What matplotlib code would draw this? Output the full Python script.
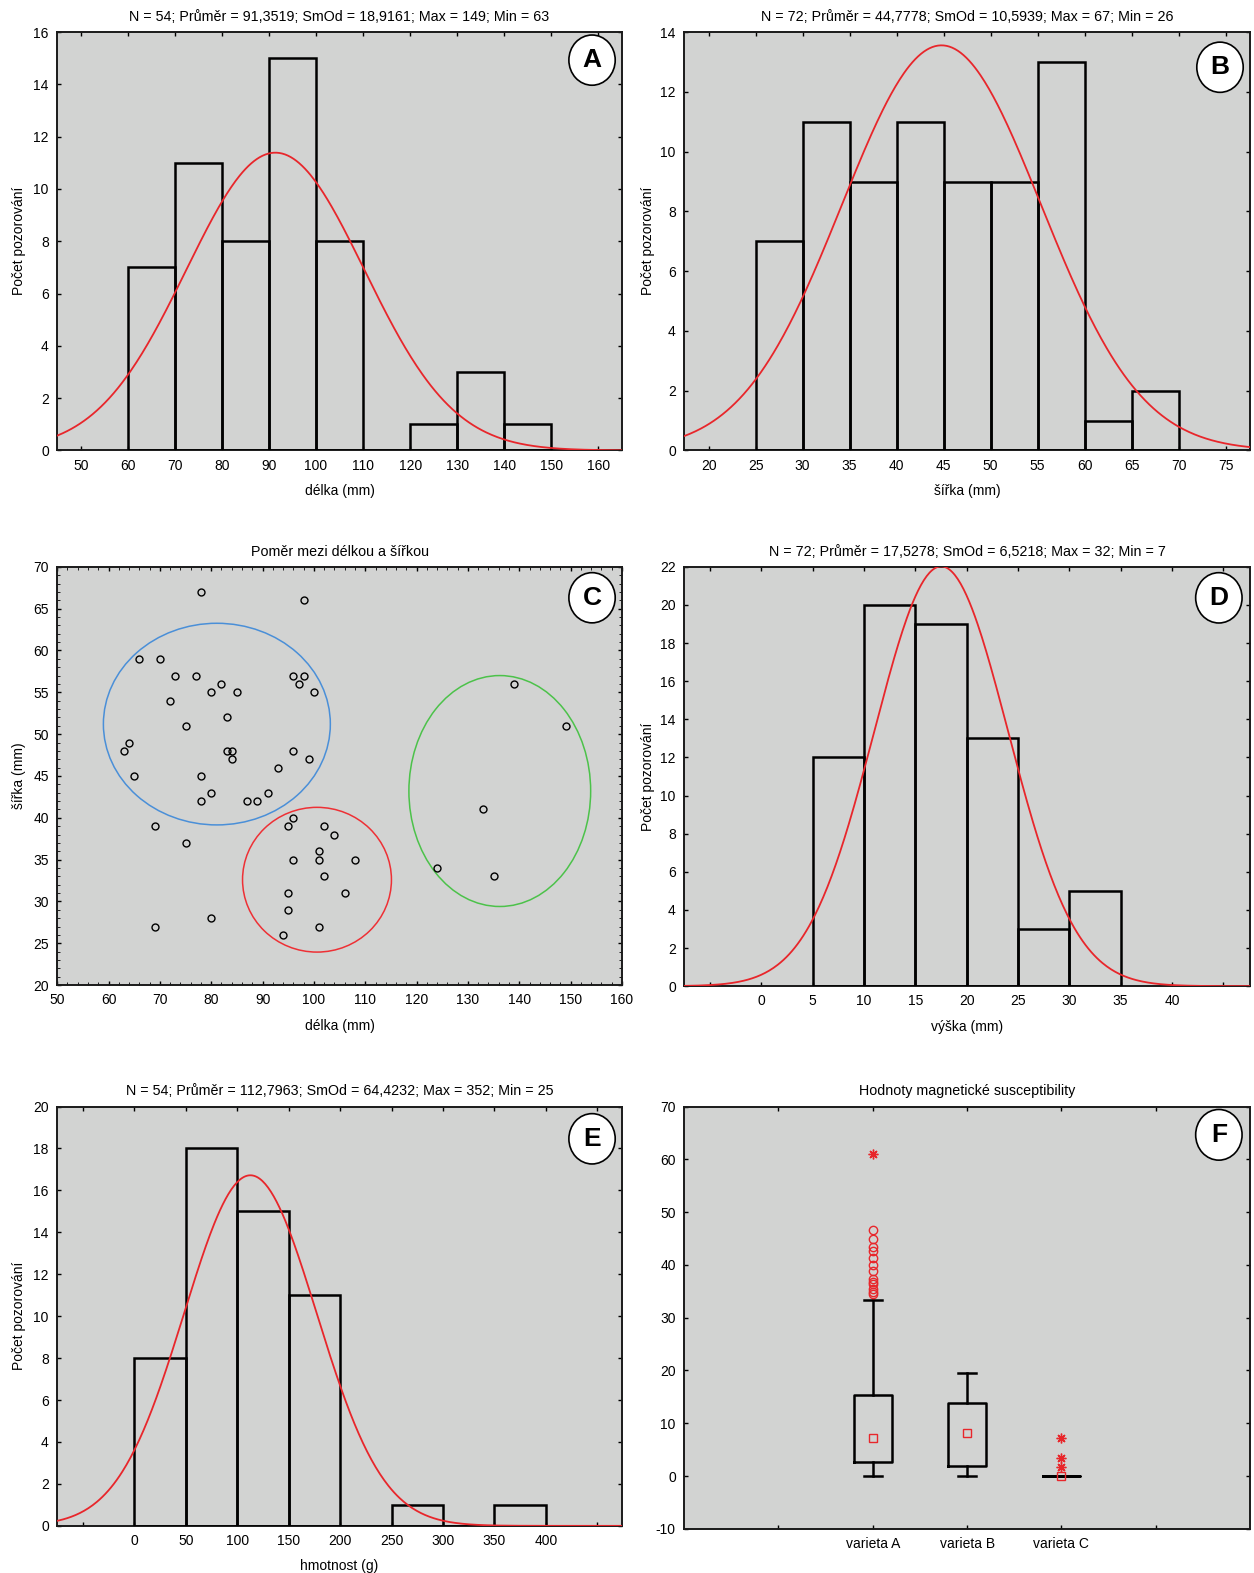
import matplotlib.pyplot as plt
import numpy as np
from matplotlib.patches import Ellipse

plt.rcParams['font.family'] = ['Liberation Sans', 'DejaVu Sans']
plt.rcParams['axes.unicode_minus'] = False

# ---- data ----
# A: délka
a_edges = np.array([60, 70, 80, 90, 100, 110, 120, 130, 140, 150])
a_counts = np.array([7, 11, 8, 15, 8, 0, 1, 3, 1])
a_n, a_mean, a_sd = 54, 91.3519, 18.9161

# B: šířka
b_edges = np.array([25, 30, 35, 40, 45, 50, 55, 60, 65, 70])
b_counts = np.array([7, 11, 9, 11, 9, 9, 13, 1, 2])
b_n, b_mean, b_sd = 72, 44.7778, 10.5939

# C: scatter délka vs šířka
c_len = [78, 98, 66, 70, 73, 77, 82, 80, 85, 72, 83, 75, 64, 63, 83, 84, 84, 96, 99,
         65, 78, 93, 80, 78, 91, 87, 89, 96, 98, 97, 100,
         96, 95, 102, 104, 101, 101, 96, 108, 102, 95, 106, 95, 101, 94,
         80, 69, 75, 69,
         139, 149, 133, 124, 135]
c_wid = [67, 66, 59, 59, 57, 57, 56, 55, 55, 54, 52, 51, 49, 48, 48, 48, 47, 48, 47,
         45, 45, 46, 43, 42, 43, 42, 42, 57, 57, 56, 55,
         40, 39, 39, 38, 36, 35, 35, 35, 33, 31, 31, 29, 27, 26,
         28, 39, 37, 27,
         56, 51, 41, 34, 33]

# D: výška
d_edges = np.array([5, 10, 15, 20, 25, 30, 35])
d_counts = np.array([12, 20, 19, 13, 3, 5])
d_n, d_mean, d_sd = 72, 17.5278, 6.5218

# E: hmotnost
e_edges = np.array([0, 50, 100, 150, 200, 250, 300, 350, 400])
e_counts = np.array([8, 18, 15, 11, 0, 1, 0, 1])
e_n, e_mean, e_sd = 54, 112.7963, 64.4232

# F: magnetic susceptibility
f_labels = ['varieta A', 'varieta B', 'varieta C']
f_median = [7.3, 8.1, 0.0]
f_q1 = [2.7, 2.0, 0.0]
f_q3 = [15.4, 13.8, 0.0]
f_whislo = [0.0, 0.0, 0.0]
f_whishi = [33.3, 19.5, 0.0]
f_out_a = [46.7, 44.9, 43.3, 42.6, 41.4, 40.0, 38.9, 37.3, 36.8, 36.3, 35.4, 34.8, 34.5]
f_extreme_a = [61.0]
f_extreme_c = [7.3, 3.5, 1.8]

BG = '#d2d3d2'
RED = '#e8262b'
FS = 10
ASTER = (8, 2, 0)

fig = plt.figure(figsize=(12.54, 15.73), dpi=100)
W, H = 1250.0, 1568.0


def make_ax(x0, x1, y0, y1):
    ax = fig.add_axes([x0 / W, 1 - y1 / H, (x1 - x0) / W, (y1 - y0) / H])
    ax.set_facecolor(BG)
    for s in ax.spines.values():
        s.set_linewidth(1.4)
        s.set_color('#1a1a1a')
    ax.tick_params(direction='in', length=3, width=1, top=True, right=True,
                   labelsize=FS, pad=6)
    return ax


def panel_letter(ax, letter, fx, fy):
    ax.add_patch(Ellipse((fx, fy), 0.082, 0.12, transform=ax.transAxes,
                         facecolor='white', edgecolor='black', lw=1.2,
                         clip_on=False, zorder=5))
    ax.text(fx, fy, letter, transform=ax.transAxes, ha='center', va='center',
            fontsize=19, fontweight='bold', zorder=6)


def hist_panel(ax, edges, counts, n, mean, sd, xlim, ylim):
    ax.bar(edges[:-1], counts, width=np.diff(edges), align='edge', fill=False,
           edgecolor='black', linewidth=1.8, zorder=3)
    xs = np.linspace(xlim[0], xlim[1], 400)
    bw = edges[1] - edges[0]
    ys = n * bw * np.exp(-0.5 * ((xs - mean) / sd) ** 2) / (sd * np.sqrt(2 * np.pi))
    ax.plot(xs, ys, color=RED, lw=1.3, zorder=4)
    ax.set_xlim(*xlim)
    ax.set_ylim(*ylim)


def fmt(v):
    return ('%.4f' % v).replace('.', ',')


def stat_title(ax, n, mean, sd, mx, mn):
    ax.set_title('N = %d; Průměr = %s; SmOd = %s; Max = %d; Min = %d'
                 % (n, fmt(mean), fmt(sd), mx, mn), fontsize=10.3, pad=8)


# ---- A ----
ax = make_ax(57, 620, 32, 449)
hist_panel(ax, a_edges, a_counts, a_n, a_mean, a_sd, (45, 165), (0, 16))
ax.set_xticks(np.arange(50, 161, 10))
ax.set_yticks(np.arange(0, 17, 2))
stat_title(ax, a_n, a_mean, a_sd, 149, 63)
ax.set_xlabel('délka (mm)', fontsize=FS, labelpad=8)
ax.set_ylabel('Počet pozorování', fontsize=FS, labelpad=5)
panel_letter(ax, 'A', 0.947, 0.933)

# ---- B ----
ax = make_ax(682, 1246, 32, 449)
hist_panel(ax, b_edges, b_counts, b_n, b_mean, b_sd, (17.4, 77.6), (0, 14))
ax.set_xticks(np.arange(20, 76, 5))
ax.set_yticks(np.arange(0, 15, 2))
stat_title(ax, b_n, b_mean, b_sd, 67, 26)
ax.set_xlabel('šířka (mm)', fontsize=FS, labelpad=8)
ax.set_ylabel('Počet pozorování', fontsize=FS, labelpad=4)
panel_letter(ax, 'B', 0.947, 0.916)

# ---- C ----
ax = make_ax(57, 620, 565, 982)
ax.plot(c_len, c_wid, 'o', mfc='none', mec='black', ms=5, mew=1, zorder=3)
ax.add_patch(Ellipse((81.1, 51.2), 44.2, 24.1, fill=False, ec='#4a8fd8', lw=1.1))
ax.add_patch(Ellipse((100.6, 32.6), 29.0, 17.3, fill=False, ec='#ee3035', lw=1.1))
ax.add_patch(Ellipse((136.2, 43.2), 35.4, 27.6, fill=False, ec='#4cc24a', lw=1.1))
ax.set_xlim(50, 160)
ax.set_ylim(20, 70)
ax.set_xticks(np.arange(50, 161, 10))
ax.set_yticks(np.arange(20, 71, 5))
ax.set_xticks(np.arange(50, 161, 2), minor=True)
ax.set_yticks(np.arange(20, 71, 1), minor=True)
ax.tick_params(which='minor', direction='in', length=2, top=True, right=True)
ax.set_title('Poměr mezi délkou a šířkou', fontsize=10.3, pad=8)
ax.set_xlabel('délka (mm)', fontsize=FS, labelpad=8)
ax.set_ylabel('šířka (mm)', fontsize=FS, labelpad=5)
panel_letter(ax, 'C', 0.947, 0.926)

# ---- D ----
ax = make_ax(682, 1246, 565, 983)
hist_panel(ax, d_edges, d_counts, d_n, d_mean, d_sd, (-7.5, 47.6), (0, 22))
ax.set_xticks(np.arange(-5, 46, 5))
ax.set_xticklabels(['' if v < 0 or v > 40 else str(v) for v in np.arange(-5, 46, 5)])
ax.set_yticks(np.arange(0, 23, 2))
stat_title(ax, d_n, d_mean, d_sd, 32, 7)
ax.set_xlabel('výška (mm)', fontsize=FS, labelpad=8)
ax.set_ylabel('Počet pozorování', fontsize=FS, labelpad=4)
panel_letter(ax, 'D', 0.945, 0.926)

# ---- E ----
ax = make_ax(57, 620, 1103, 1521)
hist_panel(ax, e_edges, e_counts, e_n, e_mean, e_sd, (-75, 474), (0, 20))
ax.set_xticks(np.arange(-50, 451, 50))
ax.set_xticklabels(['' if v < 0 or v > 400 else str(v) for v in np.arange(-50, 451, 50)])
ax.set_yticks(np.arange(0, 21, 2))
stat_title(ax, e_n, e_mean, e_sd, 352, 25)
ax.set_xlabel('hmotnost (g)', fontsize=FS, labelpad=8)
ax.set_ylabel('Počet pozorování', fontsize=FS, labelpad=5)
panel_letter(ax, 'E', 0.947, 0.923)

# ---- F ----
ax = make_ax(682, 1246, 1103, 1524)
stats = [dict(med=m, q1=a, q3=b, whislo=lo, whishi=hi, fliers=[], label=l)
         for m, a, b, lo, hi, l in zip(f_median, f_q1, f_q3, f_whislo, f_whishi, f_labels)]
pos = np.arange(len(f_labels))
ax.bxp(stats, positions=pos, widths=0.4, showfliers=False,
       boxprops=dict(color='black', lw=1.8),
       whiskerprops=dict(color='black', lw=1.8),
       capprops=dict(color='black', lw=1.8),
       medianprops=dict(lw=0), capwidths=0.19)
ax.plot(pos, f_median, 's', mfc='none', mec=RED, ms=6, mew=1, zorder=5)
ax.plot([0] * len(f_out_a), f_out_a, 'o', mfc='none', mec=RED, ms=6, mew=1, zorder=5)
ax.plot([0] * len(f_extreme_a), f_extreme_a, marker=ASTER, ls='none', color=RED,
        ms=7, mew=1, zorder=5)
ax.plot([2] * len(f_extreme_c), f_extreme_c, marker=ASTER, ls='none', color=RED,
        ms=7, mew=1, zorder=5)
ax.set_xlim(-2, 4)
ax.set_ylim(-10, 70)
ax.set_xticks(np.arange(-1, 4))
ax.set_xticklabels([''] + f_labels + [''])
ax.set_yticks(np.arange(-10, 71, 10))
ax.set_title('Hodnoty magnetické susceptibility', fontsize=10.3, pad=8)
panel_letter(ax, 'F', 0.945, 0.933)

fig.savefig('out.png', dpi=100)
